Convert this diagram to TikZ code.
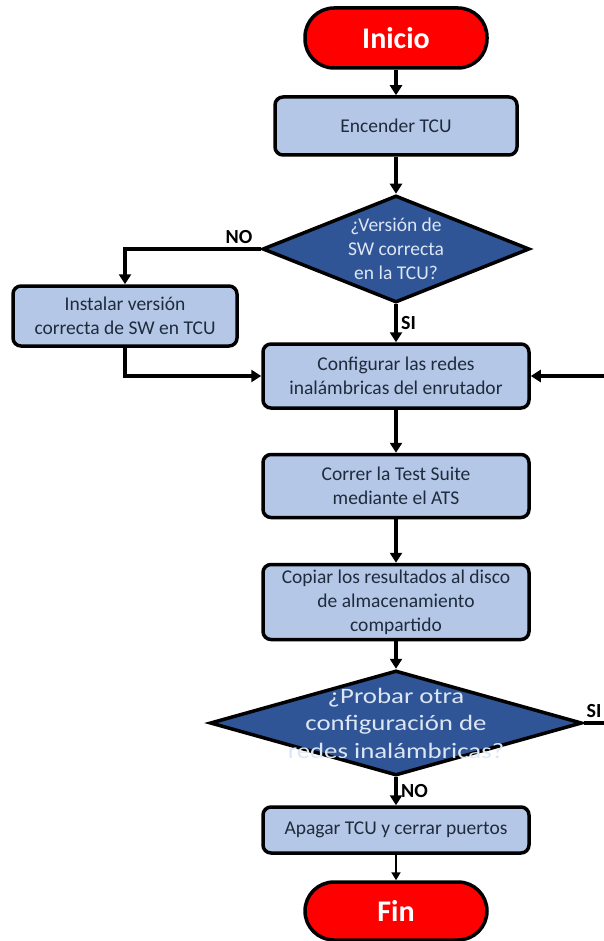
\documentclass[tikz,border=0pt]{standalone}
\usepackage{fontspec}
\setmainfont{Carlito}
\newfontfamily\widefont[FakeStretch=1.22]{Carlito}
\usetikzlibrary{shapes.geometric,arrows.meta}

\definecolor{boxblue}{HTML}{B4C7E7}
\definecolor{boxtext}{HTML}{1E2B3C}
\definecolor{decblue}{HTML}{2F5597}
\definecolor{dectext}{HTML}{DCE6F4}
\definecolor{termred}{HTML}{FF0000}

\begin{document}
\begin{tikzpicture}[x=1pt, y=-1pt, thick,
    main box/.style={rectangle, rounded corners=8pt, draw, line width=3.5pt, fill=boxblue,
                     text=boxtext, align=center, font=\fontsize{19.5}{24}\selectfont,
                     minimum width=266pt, inner sep=2pt},
    decision/.style={diamond, aspect=3, draw, line width=3.5pt, fill=decblue, text=dectext,
                     align=center, inner xsep=-50pt, inner ysep=-20pt,
                     font=\fontsize{19.5}{24}\selectfont},
    terminal/.style={rectangle, rounded corners=29pt, draw, line width=3.5pt, fill=termred,
                     text=white, font=\fontsize{30}{36}\selectfont\bfseries,
                     minimum width=182pt, minimum height=60pt},
    flow/.style={line width=3.5pt, -{Triangle[length=10pt,width=12pt]}},
    thin flow/.style={line width=1.8pt, -{Triangle[length=8pt,width=9pt]}},
    branch/.style={font=\fontsize{20}{22}\selectfont\bfseries, text=black}]

  \useasboundingbox (0,0) rectangle (604,941);

  % main column
  \node[terminal] (inicio) at (396,38) {Inicio};
  \node[main box, minimum width=242pt, minimum height=58pt] (encender) at (396,126) {Encender TCU};
  \node[decision, minimum width=267pt, minimum height=107pt] (q1) at (396,249)
       {¿Versión de\\SW correcta\\en la TCU?};
  \node[main box, minimum width=224pt, minimum height=60pt] (instalar) at (125,316)
       {Instalar versión\\correcta de SW en TCU};
  \node[main box, minimum height=64pt] (config) at (396,376)
       {Configurar las redes\\inalámbricas del enrutador};
  \node[main box, minimum height=63pt] (correr) at (396,486)
       {Correr la Test Suite\\mediante el ATS};
  \node[main box, minimum height=75pt] (copiar) at (396,602)
       {Copiar los resultados al disco\\de almacenamiento\\compartido};
  \node[decision, minimum width=372pt, minimum height=105pt,
        font=\widefont\fontsize{22}{27.5}\selectfont] (q2) at (396,723)
       {¿Probar otra\\configuración de\\redes inalámbricas?};
  \node[main box, minimum height=46pt] (apagar) at (396,830) {Apagar TCU y cerrar puertos};
  \node[terminal, minimum height=58pt] (fin) at (396,911) {Fin};

  \coordinate (loop) at (625,0);

  % connectors
  \draw[flow] (inicio) -- (encender);
  \draw[flow] (encender) -- (q1);
  \draw[flow] (q1.west) -| node[branch, pos=0.08, above] {NO} (instalar.north);
  \draw[flow] (q1) -- node[branch, right] {SI} (config);
  \draw[flow] (instalar.south) |- (config.west);
  \draw[flow] (config) -- (correr);
  \draw[flow] (correr) -- (copiar);
  \draw[flow] (copiar) -- (q2);
  \draw[flow] (q2.east) -- node[branch, above, pos=0.25] {SI} (q2.east -| loop)
              -- (config.east -| loop) -- (config.east);
  \draw[flow] (q2) -- node[branch, right] {NO} (apagar);
  \draw[thin flow] (apagar) -- (fin);

\end{tikzpicture}
\end{document}
